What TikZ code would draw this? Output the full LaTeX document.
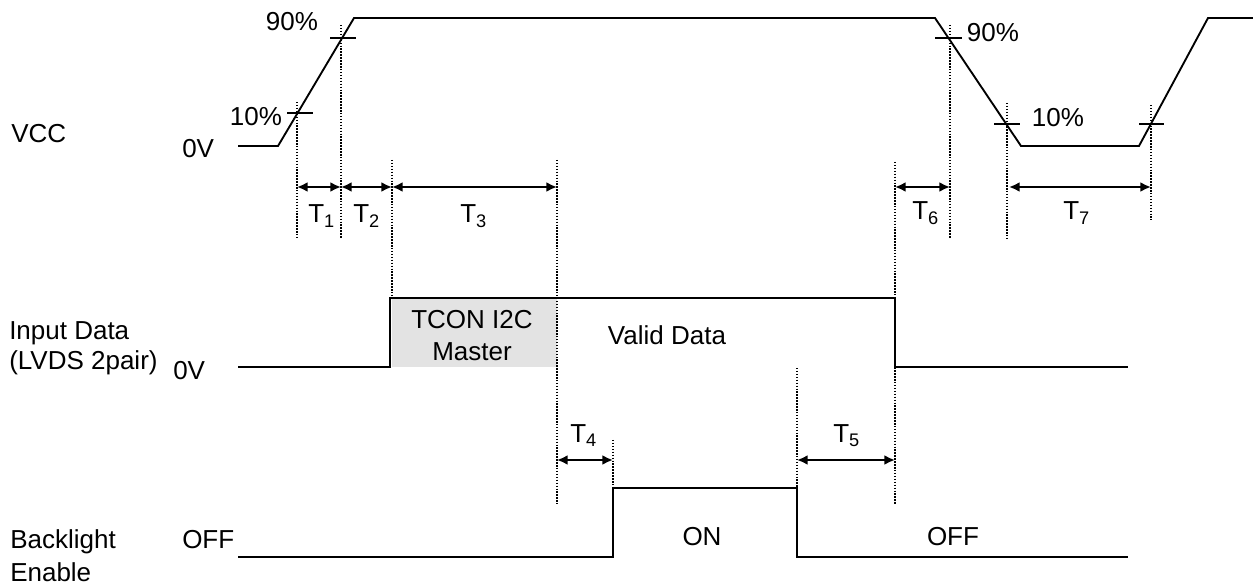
\documentclass[tikz,border=0pt]{standalone}
\usepackage{fontspec}
\setmainfont{Liberation Sans}
\usetikzlibrary{arrows.meta}
\begin{document}
\begin{tikzpicture}[x=0.75pt,y=-0.75pt,
  sig/.style={line width=1.4pt},
  guide/.style={line width=1.1pt, dash pattern=on 1.1pt off 1.1pt},
  dimarrow/.style={line width=2pt,{Latex[length=8pt,width=7.5pt]}-{Latex[length=8pt,width=7.5pt]}},
  tickmark/.style={line width=1.2pt},
  lbl/.style={font=\fontsize{19.5}{23}\selectfont, inner sep=0pt},
  tlbl/.style={lbl, anchor=base west},
]
\useasboundingbox (0,0) rectangle (1253,584);

% ---------- key coordinates ----------
\coordinate (v0) at (238,146);
\coordinate (v1) at (278,146);
\coordinate (v2) at (354,18);
\coordinate (v3) at (935,18);
\coordinate (v4) at (1021,146);
\coordinate (v5) at (1139,146);
\coordinate (v6) at (1208,18);
\coordinate (v7) at (1253,18);

\coordinate (d0) at (238,367);
\coordinate (d1) at (390,367);
\coordinate (d2) at (390,298);
\coordinate (d3) at (895,298);
\coordinate (d4) at (895,367);
\coordinate (d5) at (1128,367);

\coordinate (b0) at (238,557);
\coordinate (b1) at (613,557);
\coordinate (b2) at (613,488);
\coordinate (b3) at (797,488);
\coordinate (b4) at (797,557);
\coordinate (b5) at (1128,557);

% guide line ends
\coordinate (g1a) at (297,102);  \coordinate (g1b) at (297,238);
\coordinate (g2a) at (341,25);   \coordinate (g2b) at (341,238);
\coordinate (g3a) at (392,160);  \coordinate (g3b) at (392,298);
\coordinate (g4a) at (557,160);  \coordinate (g4b) at (557,504);
\coordinate (g5a) at (613,440);  \coordinate (g5b) at (613,488);
\coordinate (g6a) at (797,368);  \coordinate (g6b) at (797,488);
\coordinate (g7a) at (895,162);  \coordinate (g7b) at (895,504);
\coordinate (g8a) at (950,25);   \coordinate (g8b) at (950,238);
\coordinate (g9a) at (1007,103); \coordinate (g9b) at (1007,238);
\coordinate (g10a) at (1151,105); \coordinate (g10b) at (1151,220);

% arrow ends
\coordinate (a1) at (297,187);
\coordinate (a2) at (341,187);
\coordinate (a3) at (392,187);
\coordinate (a4) at (557,187);
\coordinate (a6l) at (895,187);
\coordinate (a6r) at (950,187);
\coordinate (a7l) at (1009,187);
\coordinate (a7r) at (1151,187);
\coordinate (a4l) at (557,460);
\coordinate (a4r) at (613,460);
\coordinate (a5l) at (797,460);
\coordinate (a5r) at (895,460);

% ---------- gray box ----------
\fill[gray!22] (392,298) rectangle (557,367);

% ---------- waveforms ----------
\draw[sig] (v0) -- (v1) -- (v2) -- (v3) -- (v4) -- (v5) -- (v6) -- (v7);
\draw[sig] (d0) -- (d1) -- (d2) -- (d3) -- (d4) -- (d5);
\draw[sig] (b0) -- (b1) -- (b2) -- (b3) -- (b4) -- (b5);

% ---------- 10% / 90% ticks ----------
\draw[tickmark] (287,113) -- (313,113);
\draw[tickmark] (330,38) -- (356,38);
\draw[tickmark] (935,38) -- (962,38);
\draw[tickmark] (994,124) -- (1020,124);
\draw[tickmark] (1139,124) -- (1164,124);

% ---------- guides ----------
\foreach \g in {1,...,10} \draw[guide] (g\g a) -- (g\g b);

% ---------- dimension arrows ----------
\draw[dimarrow] (a1) -- (a2);
\draw[dimarrow] (a2) -- (a3);
\draw[dimarrow] (a3) -- (a4);
\draw[dimarrow] (a6l) -- (a6r);
\draw[dimarrow] (a7l) -- (a7r);
\draw[dimarrow] (a4l) -- (a4r);
\draw[dimarrow] (a5l) -- (a5r);

% ---------- T labels ----------
\node[tlbl] (t1) at (308,223) {T\textsubscript{1}};
\node[tlbl] (t2) at (353,223) {T\textsubscript{2}};
\node[tlbl] (t3) at (460,223) {T\textsubscript{3}};
\node[tlbl] (t6) at (912,220) {T\textsubscript{6}};
\node[tlbl] (t7) at (1063,220) {T\textsubscript{7}};
\node[tlbl] (t4) at (570,442) {T\textsubscript{4}};
\node[tlbl] (t5) at (833,442) {T\textsubscript{5}};

% ---------- percent labels ----------
\node[lbl] (p90a) at (292,22) {90\%};
\node[lbl] (p10a) at (256,117) {10\%};
\node[lbl] (p90b) at (993,33) {90\%};
\node[lbl] (p10b) at (1058,118) {10\%};

% ---------- signal names ----------
\node[lbl, anchor=west] (vcc) at (11,134) {VCC};
\node[lbl, anchor=west] (vcc0) at (182,149) {0V};
\node[lbl, anchor=west, align=left, font=\fontsize{19.5}{22.5}\selectfont] (inp) at (9,348) {Input Data\\(LVDS 2pair)};
\node[lbl, anchor=west] (inp0) at (173,371) {0V};
\node[lbl, anchor=base west] (bl1) at (10,548) {Backlight};
\node[lbl, anchor=base west] (bl2) at (10,581) {Enable};
\node[lbl, anchor=west] (off1) at (182,540) {OFF};

% ---------- region texts ----------
\node[lbl, align=center, font=\fontsize{19.5}{24}\selectfont] (tcon) at (472,336) {TCON I2C\\Master};
\node[lbl] (valid) at (667,335) {Valid Data};
\node[lbl] (on) at (702,537) {ON};
\node[lbl] (off2) at (953,537) {OFF};
\end{tikzpicture}
\end{document}
